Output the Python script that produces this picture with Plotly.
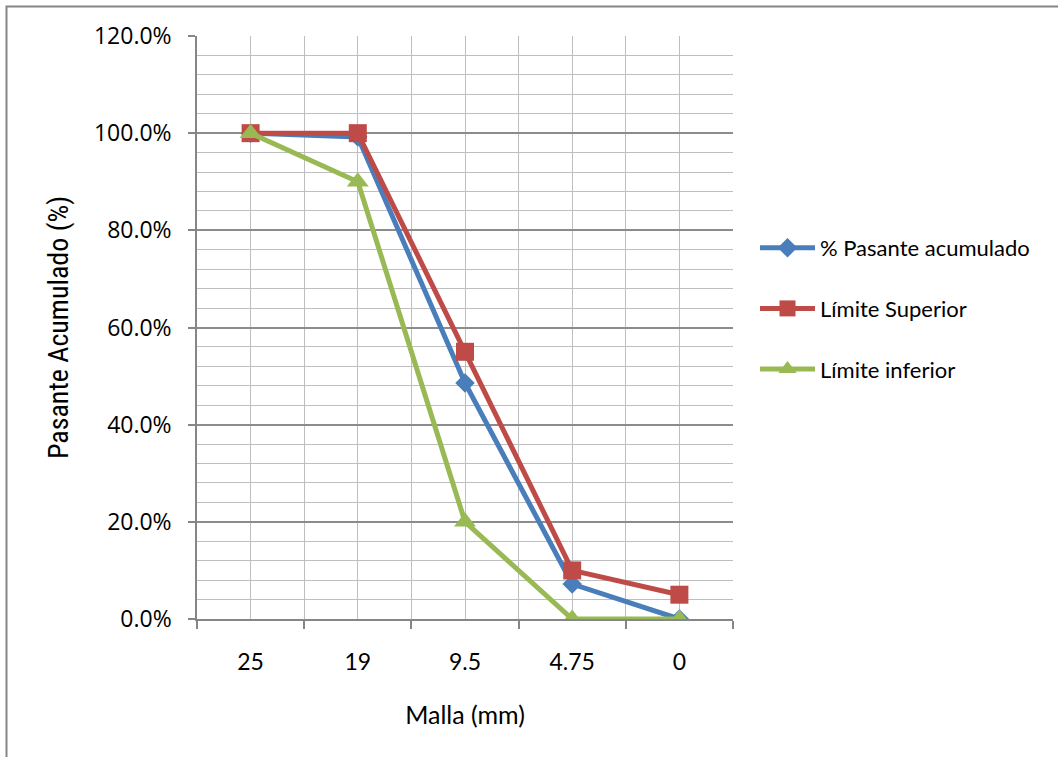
import plotly.graph_objects as go

mallas = ["25", "19", "9.5", "4.75", "0"]
pasante = [1.000, 0.992, 0.486, 0.072, 0.000]
lim_sup = [1.000, 1.000, 0.550, 0.100, 0.050]
lim_inf = [1.000, 0.900, 0.200, 0.000, 0.000]

W, H = 1058, 757
L, R, T, B = 197, 325, 36, 138
pw, ph = W - L - R, H - T - B

font_main = "Lato, 'Open Sans', sans-serif"

xs = list(range(len(mallas)))

fig = go.Figure()
series = [
    ("% Pasante acumulado", pasante, "#4A7EBB", "diamond", 15),
    ("Límite Superior", lim_sup, "#BE4B48", "square", 18),
    ("Límite inferior", lim_inf, "#98B954", "triangle-up", 19),
]
for i, (name, vals, col, sym, sz) in enumerate(series):
    fig.add_trace(go.Scatter(
        x=xs, y=vals, name=name, mode="lines+markers",
        line=dict(color=col, width=5),
        marker=dict(symbol=sym, size=sz, color=col, line=dict(width=0)),
        legendgroup=f"g{i}",
    ))

fig.update_layout(
    width=W, height=H,
    margin=dict(l=L, r=R, t=T, b=B),
    paper_bgcolor="white", plot_bgcolor="white",
    font=dict(family=font_main, size=22, color="black"),
    showlegend=True,
    legend=dict(
        x=(755 - L) / pw, y=(H - B - 249 + 22) / ph, xanchor="left", yanchor="top",
        font=dict(family=font_main, size=22, color="black"),
        tracegroupgap=29, bgcolor="rgba(0,0,0,0)", itemwidth=55,
    ),
    xaxis=dict(
        tickmode="array", tickvals=xs, ticktext=mallas,
        range=[-0.5, len(mallas) - 0.5],
        showgrid=True, gridcolor="#BEBEBE", gridwidth=1,
        ticks="", showline=True, linecolor="#868686", linewidth=1.5,
        tickfont=dict(family=font_main, size=23),
        ticklabelstandoff=22,
        minor=dict(tick0=-0.5, dtick=1, showgrid=True, gridcolor="#BEBEBE",
                   gridwidth=1, ticks="outside", ticklen=8, tickcolor="#868686",
                   tickwidth=1.5),
        title=dict(text="Malla (mm)", font=dict(family=font_main, size=25), standoff=32),
        zeroline=False,
    ),
    yaxis=dict(
        range=[0, 1.2], dtick=0.2, tick0=0, tickformat=".1%",
        showgrid=True, gridcolor="#8C8C8C", gridwidth=1.5,
        ticks="outside", ticklen=7, tickcolor="#868686", tickwidth=1.5,
        showline=True, linecolor="#868686", linewidth=1.5,
        tickfont=dict(family="'Open Sans', sans-serif", size=23),
        ticklabelstandoff=12,
        minor=dict(dtick=0.04, showgrid=True, gridcolor="#BEBEBE", gridwidth=1),
        title=dict(text="Pasante Acumulado (%)",
                   font=dict(family="'Liberation Sans Narrow', 'Roboto Condensed', Roboto, sans-serif", size=28),
                   standoff=17),
        zeroline=False,
    ),
    shapes=[dict(
        type="rect", xref="paper", yref="paper",
        x0=(6.5 - L) / pw, x1=(W + 20 - L) / pw,
        y0=(H - B - (H + 20)) / ph, y1=(H - B - 6.5) / ph,
        line=dict(color="#868686", width=2), fillcolor="rgba(0,0,0,0)", layer="below",
    )],
)

fig.write_html("out.html", config={"displayModeBar": False},
               post_script="document.body.style.margin='0';")
